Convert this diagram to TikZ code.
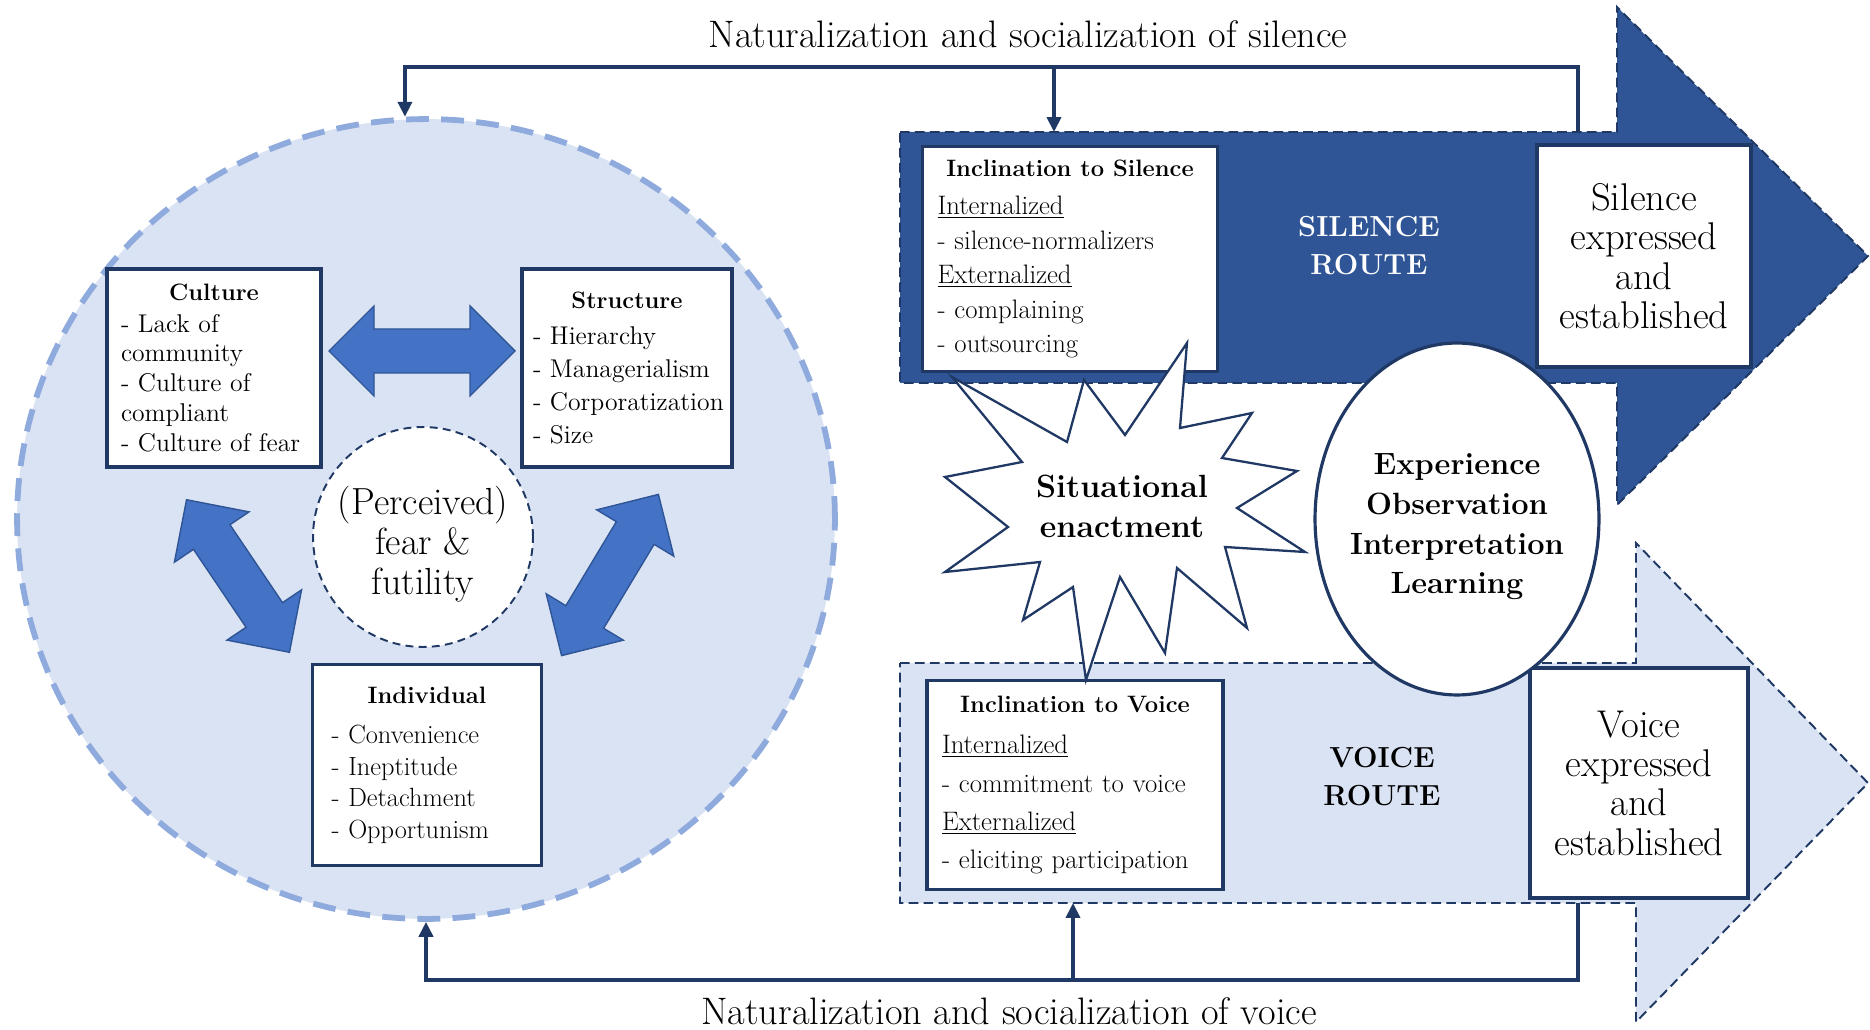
\documentclass[tikz,border=0pt]{standalone}
\usetikzlibrary{shapes.geometric,arrows.meta}

\definecolor{navy}{HTML}{1F3864}
\definecolor{routeblue}{HTML}{2F5597}
\definecolor{paleblue}{HTML}{DAE3F3}
\definecolor{ringblue}{HTML}{8FAADC}
\definecolor{arrowblue}{HTML}{4472C4}

% bold centred title of a text box
\newcommand{\boxtitle}[1]{\centerline{\fontsize{13.5}{17}\selectfont\bfseries #1}}
% fat two-headed arrow: centre, angle, length
\newcommand{\twoway}[3]{%
  \begin{scope}[shift={#1}, rotate=#2]
    \filldraw[fatarrow] (-#3/2,0) -- (-#3/2+45,-45) -- (-#3/2+45,-22) -- (#3/2-45,-22)
      -- (#3/2-45,-45) -- (#3/2,0) -- (#3/2-45,45) -- (#3/2-45,22) -- (-#3/2+45,22)
      -- (-#3/2+45,45) -- cycle;
  \end{scope}}

\begin{document}
\begin{tikzpicture}[x=0.02cm, y=-0.02cm,
    wbox/.style={draw=navy, line width=1.8pt, fill=white, inner sep=0pt},
    factor/.style={wbox, align=left, font=\fontsize{14.6}{17}\selectfont},
    incl/.style={wbox, align=left, font=\fontsize{15.2}{19.7}\selectfont},
    outcome/.style={wbox, align=center, font=\fontsize{22}{22.4}\selectfont},
    bigbold/.style={align=center, font=\fontsize{17.5}{22.6}\selectfont\bfseries},
    route/.style={draw=navy, line width=1.1pt, dash pattern=on 5.5pt off 3pt},
    fatarrow/.style={fill=arrowblue, draw=routeblue, line width=0.8pt},
    burst/.style={draw=navy, line width=1.3pt, fill=white},
    link/.style={draw=navy, line width=2pt, -{Triangle[length=8.5pt,width=8pt]}},
    caption/.style={font=\fontsize{21.8}{24}\selectfont}]
  \useasboundingbox (0,0) rectangle (1870,1030);
  %
  % left: the organisational context
  \node[ellipse, minimum width=16.36cm, minimum height=16cm, fill=paleblue, draw=ringblue,
        line width=3.3pt, dash pattern=on 13pt off 7pt] (ring) at (426,519) {};
  \twoway{(422,351)}{0}{186}      % culture <-> structure
  \twoway{(238,576)}{-56}{184}    % culture <-> individual
  \twoway{(610,575)}{59}{188}     % structure <-> individual
  \node[circle, minimum size=4.4cm, draw=navy, fill=white, line width=1.1pt,
        dash pattern=on 4.5pt off 3pt] (fear) at (423,537) {};
  \node[align=center, font=\fontsize{21.5}{22.7}\selectfont] (feartext) at (423,544) {(Perceived)\\fear \&\\futility};
  %
  \node[factor, minimum width=4.28cm, minimum height=3.96cm, text width=3.72cm] (culture) at (214,368)
    {\boxtitle{Culture}\\[1pt]- Lack of\\community\\- Culture of\\compliant\\- Culture of fear};
  \node[factor, minimum width=4.2cm, minimum height=3.96cm, text width=3.76cm,
        font=\fontsize{14.6}{18.8}\selectfont] (structure) at (627,368)
    {\boxtitle{Structure}\\[2pt]- Hierarchy\\- Managerialism\\\mbox{- Corporatization}\\- Size};
  \node[factor, minimum width=4.58cm, minimum height=4.02cm, text width=3.82cm,
        font=\fontsize{15}{18}\selectfont] (individual) at (427,765)
    {\boxtitle{Individual}\\[5pt]- Convenience\\- Ineptitude\\- Detachment\\- Opportunism};
  %
  % right: the two routes
  \path[route, fill=paleblue] (900,663) -- (1636,663) -- (1636,543) -- (1868,783)
    -- (1636,1022) -- (1636,903) -- (900,903) -- cycle;
  \path[route, fill=routeblue] (900,132) -- (1617,132) -- (1617,7) -- (1868,256)
    -- (1617,505) -- (1617,383) -- (900,383) -- cycle;
  %
  \node[incl, minimum width=5.9cm, minimum height=4.5cm, text width=5.3cm] (insilence) at (1070,259)
    {\boxtitle{Inclination to Silence}\\[2pt]\underline{Internalized}\\- silence-normalizers\\
     \underline{Externalized}\\- complaining\\- outsourcing};
  \node[incl, minimum width=5.92cm, minimum height=4.18cm, text width=5.32cm,
        font=\fontsize{15.2}{21.8}\selectfont] (invoice) at (1075,785)
    {\boxtitle{Inclination to Voice}\\[2pt]\underline{Internalized}\\- commitment to voice\\
     \underline{Externalized}\\- eliciting participation};
  \node[bigbold, text=white, font=\fontsize{16.5}{21.6}\selectfont\bfseries] (silroute) at (1369,246) {SILENCE\\ROUTE};
  \node[bigbold, font=\fontsize{16.5}{21.6}\selectfont\bfseries] (voiroute) at (1382,777) {VOICE\\ROUTE};
  \node[outcome, minimum width=4.28cm, minimum height=4.44cm] (silexp) at (1644,256)
    {Silence\\expressed\\and\\established};
  \node[outcome, minimum width=4.36cm, minimum height=4.6cm] (voiexp) at (1639,783)
    {Voice\\expressed\\and\\established};
  %
  % situational enactment burst
  \draw[burst] (1187,343) -- (1180,428) -- (1252,413) -- (1222,458) -- (1297,471) -- (1237,508)
    -- (1305,552) -- (1225,547) -- (1247,628) -- (1177,568) -- (1165,653) -- (1120,577)
    -- (1086,680) -- (1073,587) -- (1023,620) -- (1040,562) -- (945,572) -- (1008,527)
    -- (945,477) -- (1022,462) -- (952,377) -- (1067,442) -- (1084,380) -- (1125,435) -- cycle;
  \node[bigbold, font=\fontsize{18.3}{22.8}\selectfont\bfseries] (enact) at (1122,506) {Situational\\enactment};
  \node[ellipse, draw=navy, line width=1.8pt, fill=white, minimum width=5.68cm, minimum height=7.04cm,
        inner sep=0pt] (learn) at (1457,519) {};
  \node[bigbold] (learntext) at (1457,527) {Experience\\Observation\\Interpretation\\Learning};
  %
  % feedback loops
  \coordinate (silin) at (1054,132);
  \coordinate (silout) at (1578,132);
  \coordinate (silbranch) at (1054,67);
  \coordinate (voiin) at (1073,903);
  \coordinate (voiout) at (1578,903);
  \coordinate (voibranch) at (1073,980);
  \draw[link] (silout) |- (silbranch) -| (ring.93);
  \draw[link] (silbranch) -- (silin);
  \draw[link] (voiout) |- (voibranch) -| (ring.south);
  \draw[link] (voibranch) -- (voiin);
  \node[caption] (silcap) at (1028,34) {Naturalization and socialization of silence};
  \node[caption] (voicap) at (1009,1011) {Naturalization and socialization of voice};
\end{tikzpicture}
\end{document}
